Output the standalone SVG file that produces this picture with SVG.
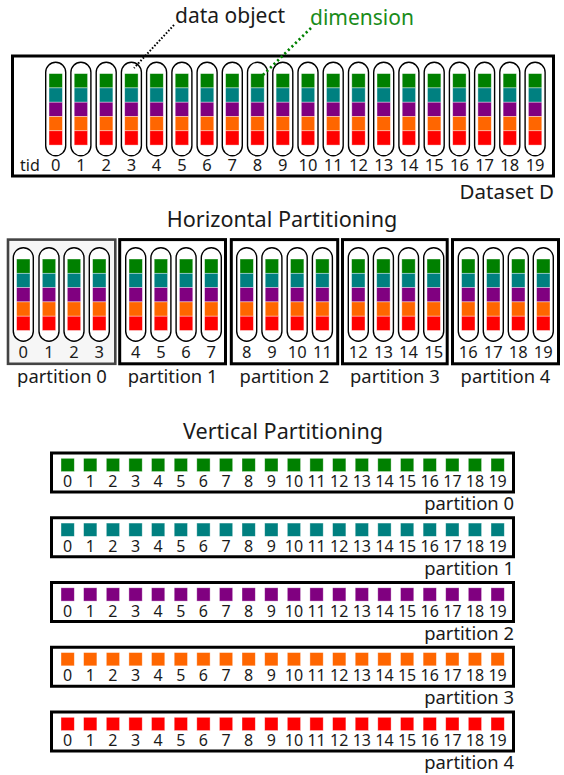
<svg xmlns="http://www.w3.org/2000/svg" xmlns:xlink="http://www.w3.org/1999/xlink" width="564" height="775" viewBox="0 0 564 775">
<style>
text{font-family:"Noto Sans","Open Sans","DejaVu Sans",sans-serif;fill:#1a1a1a}
.dg{font-size:16.5px;text-anchor:middle}
.vd{font-size:16px;text-anchor:middle;fill:#1a1a1a}
.lbl{font-size:18.4px}
.ttl{font-size:21.6px;text-anchor:middle}
.box{fill:#fff;stroke:#000;stroke-width:3}
.cap{fill:#fff;stroke:#000;stroke-width:1.4}
.sq{stroke:#fff;stroke-opacity:0.55;stroke-width:0.7}
</style>
<defs>
<g id="obj">
<rect class="cap" x="0" y="0" width="20" height="93.5" rx="10" ry="10"/>
<rect class="sq" x="3.3" y="11.3" width="13.4" height="14.3" fill="#008000"/>
<rect class="sq" x="3.3" y="25.6" width="13.4" height="14.3" fill="#008080"/>
<rect class="sq" x="3.3" y="39.9" width="13.4" height="14.3" fill="#800080"/>
<rect class="sq" x="3.3" y="54.2" width="13.4" height="14.3" fill="#ff6600"/>
<rect class="sq" x="3.3" y="68.5" width="13.4" height="14.3" fill="#ff0000"/>
</g>
<g id="vrow">
<rect class="box" x="51.5" y="453" width="462" height="39"/>
<g class="sq" stroke-opacity="0.45">
<rect x="61" y="458.3" width="13.3" height="13.3"/>
<rect x="83.6" y="458.3" width="13.3" height="13.3"/>
<rect x="106.3" y="458.3" width="13.3" height="13.3"/>
<rect x="128.9" y="458.3" width="13.3" height="13.3"/>
<rect x="151.5" y="458.3" width="13.3" height="13.3"/>
<rect x="174.2" y="458.3" width="13.3" height="13.3"/>
<rect x="196.8" y="458.3" width="13.3" height="13.3"/>
<rect x="219.4" y="458.3" width="13.3" height="13.3"/>
<rect x="242" y="458.3" width="13.3" height="13.3"/>
<rect x="264.7" y="458.3" width="13.3" height="13.3"/>
<rect x="287.3" y="458.3" width="13.3" height="13.3"/>
<rect x="309.9" y="458.3" width="13.3" height="13.3"/>
<rect x="332.6" y="458.3" width="13.3" height="13.3"/>
<rect x="355.2" y="458.3" width="13.3" height="13.3"/>
<rect x="377.8" y="458.3" width="13.3" height="13.3"/>
<rect x="400.5" y="458.3" width="13.3" height="13.3"/>
<rect x="423.1" y="458.3" width="13.3" height="13.3"/>
<rect x="445.7" y="458.3" width="13.3" height="13.3"/>
<rect x="468.3" y="458.3" width="13.3" height="13.3"/>
<rect x="491" y="458.3" width="13.3" height="13.3"/>
</g>
<g>
<text class="vd" x="67.7" y="487">0</text>
<text class="vd" x="90.3" y="487">1</text>
<text class="vd" x="112.9" y="487">2</text>
<text class="vd" x="135.5" y="487">3</text>
<text class="vd" x="158.2" y="487">4</text>
<text class="vd" x="180.8" y="487">5</text>
<text class="vd" x="203.4" y="487">6</text>
<text class="vd" x="226.1" y="487">7</text>
<text class="vd" x="248.7" y="487">8</text>
<text class="vd" x="271.3" y="487">9</text>
<text class="vd" x="294" y="487">10</text>
<text class="vd" x="316.6" y="487">11</text>
<text class="vd" x="339.2" y="487">12</text>
<text class="vd" x="361.8" y="487">13</text>
<text class="vd" x="384.5" y="487">14</text>
<text class="vd" x="407.1" y="487">15</text>
<text class="vd" x="429.7" y="487">16</text>
<text class="vd" x="452.4" y="487">17</text>
<text class="vd" x="475" y="487">18</text>
<text class="vd" x="497.6" y="487">19</text>
</g>
</g>
</defs>

<!-- Dataset D -->
<g id="dataset">
<rect class="box" x="12.5" y="56" width="541" height="120"/>
<use xlink:href="#obj" x="45.7" y="62.3"/>
<use xlink:href="#obj" x="70.9" y="62.3"/>
<use xlink:href="#obj" x="96.2" y="62.3"/>
<use xlink:href="#obj" x="121.4" y="62.3"/>
<use xlink:href="#obj" x="146.6" y="62.3"/>
<use xlink:href="#obj" x="171.9" y="62.3"/>
<use xlink:href="#obj" x="197.1" y="62.3"/>
<use xlink:href="#obj" x="222.3" y="62.3"/>
<use xlink:href="#obj" x="247.5" y="62.3"/>
<use xlink:href="#obj" x="272.8" y="62.3"/>
<use xlink:href="#obj" x="298" y="62.3"/>
<use xlink:href="#obj" x="323.2" y="62.3"/>
<use xlink:href="#obj" x="348.5" y="62.3"/>
<use xlink:href="#obj" x="373.7" y="62.3"/>
<use xlink:href="#obj" x="398.9" y="62.3"/>
<use xlink:href="#obj" x="424.2" y="62.3"/>
<use xlink:href="#obj" x="449.4" y="62.3"/>
<use xlink:href="#obj" x="474.6" y="62.3"/>
<use xlink:href="#obj" x="499.8" y="62.3"/>
<use xlink:href="#obj" x="525.1" y="62.3"/>
<text x="20" y="171" style="font-size:16px">tid</text>
<text class="dg" x="55.7" y="171">0</text>
<text class="dg" x="80.9" y="171">1</text>
<text class="dg" x="106.2" y="171">2</text>
<text class="dg" x="131.4" y="171">3</text>
<text class="dg" x="156.6" y="171">4</text>
<text class="dg" x="181.9" y="171">5</text>
<text class="dg" x="207.1" y="171">6</text>
<text class="dg" x="232.3" y="171">7</text>
<text class="dg" x="257.5" y="171">8</text>
<text class="dg" x="282.8" y="171">9</text>
<text class="dg" x="308" y="171">10</text>
<text class="dg" x="333.2" y="171">11</text>
<text class="dg" x="358.5" y="171">12</text>
<text class="dg" x="383.7" y="171">13</text>
<text class="dg" x="408.9" y="171">14</text>
<text class="dg" x="434.2" y="171">15</text>
<text class="dg" x="459.4" y="171">16</text>
<text class="dg" x="484.6" y="171">17</text>
<text class="dg" x="509.8" y="171">18</text>
<text class="dg" x="535.1" y="171">19</text>
<text x="554" y="199" style="font-size:20.5px;text-anchor:end">Dataset D</text>
</g>

<g id="label-data-object">
<text x="175" y="23" style="font-size:21px">data object</text>
</g>
<g id="label-dimension">
<text x="310" y="25" style="font-size:21px;fill:#1a8c1a">dimension</text>
</g>

<g id="connectors">
<line x1="174" y1="25" x2="134" y2="68" stroke="#000" stroke-width="2" stroke-dasharray="1.6 1.8"/>
<line x1="311" y1="28" x2="263" y2="75" stroke="#008000" stroke-width="2.6" stroke-dasharray="2.2 2.8"/>
</g>

<!-- Horizontal Partitioning -->
<text class="ttl" x="282" y="226.5">Horizontal Partitioning</text>

<g id="hpart0">
<rect x="8" y="239.6" width="107.3" height="124.2" fill="#f6f6f6" stroke="#444" stroke-width="2.6"/>
<use xlink:href="#obj" x="13.3" y="247.7"/>
<use xlink:href="#obj" x="39" y="247.7"/>
<use xlink:href="#obj" x="64" y="247.7"/>
<use xlink:href="#obj" x="89.3" y="247.7"/>
<text class="dg" x="23.3" y="357.5">0</text>
<text class="dg" x="49" y="357.5">1</text>
<text class="dg" x="74" y="357.5">2</text>
<text class="dg" x="99.3" y="357.5">3</text>
<text class="lbl" x="62" y="383" text-anchor="middle">partition 0</text>
</g>
<g id="hpart1">
<rect class="box" x="119.7" y="239.6" width="105.8" height="124.2"/>
<use xlink:href="#obj" x="125.7" y="247.7"/>
<use xlink:href="#obj" x="150.9" y="247.7"/>
<use xlink:href="#obj" x="176.1" y="247.7"/>
<use xlink:href="#obj" x="201.3" y="247.7"/>
<text class="dg" x="135.7" y="357.5">4</text>
<text class="dg" x="160.9" y="357.5">5</text>
<text class="dg" x="186.1" y="357.5">6</text>
<text class="dg" x="211.3" y="357.5">7</text>
<text class="lbl" x="172.6" y="383" text-anchor="middle">partition 1</text>
</g>
<g id="hpart2">
<rect class="box" x="231.3" y="239.6" width="106.4" height="124.2"/>
<use xlink:href="#obj" x="236.7" y="247.7"/>
<use xlink:href="#obj" x="261.9" y="247.7"/>
<use xlink:href="#obj" x="287.2" y="247.7"/>
<use xlink:href="#obj" x="312.4" y="247.7"/>
<text class="dg" x="246.7" y="357.5">8</text>
<text class="dg" x="271.9" y="357.5">9</text>
<text class="dg" x="297.2" y="357.5">10</text>
<text class="dg" x="322.4" y="357.5">11</text>
<text class="lbl" x="284.5" y="383" text-anchor="middle">partition 2</text>
</g>
<g id="hpart3">
<rect class="box" x="342.5" y="239.6" width="104.7" height="124.2"/>
<use xlink:href="#obj" x="348.3" y="247.7"/>
<use xlink:href="#obj" x="373.4" y="247.7"/>
<use xlink:href="#obj" x="398.5" y="247.7"/>
<use xlink:href="#obj" x="423.7" y="247.7"/>
<text class="dg" x="358.3" y="357.5">12</text>
<text class="dg" x="383.4" y="357.5">13</text>
<text class="dg" x="408.5" y="357.5">14</text>
<text class="dg" x="433.7" y="357.5">15</text>
<text class="lbl" x="394.9" y="383" text-anchor="middle">partition 3</text>
</g>
<g id="hpart4">
<rect class="box" x="452.5" y="239.6" width="106" height="124.2"/>
<use xlink:href="#obj" x="458.3" y="247.7"/>
<use xlink:href="#obj" x="483.3" y="247.7"/>
<use xlink:href="#obj" x="508.3" y="247.7"/>
<use xlink:href="#obj" x="533.3" y="247.7"/>
<text class="dg" x="468.3" y="357.5">16</text>
<text class="dg" x="493.3" y="357.5">17</text>
<text class="dg" x="518.3" y="357.5">18</text>
<text class="dg" x="543.3" y="357.5">19</text>
<text class="lbl" x="505.5" y="383" text-anchor="middle">partition 4</text>
</g>

<!-- Vertical Partitioning -->
<text class="ttl" x="283" y="439">Vertical Partitioning</text>

<g id="vpart0">
<use xlink:href="#vrow" fill="#008000"/>
<text class="lbl" x="514" y="510" text-anchor="end">partition 0</text>
</g>
<g id="vpart1">
<use xlink:href="#vrow" y="64.75" fill="#008080"/>
<text class="lbl" x="514" y="574.75" text-anchor="end">partition 1</text>
</g>
<g id="vpart2">
<use xlink:href="#vrow" y="129.5" fill="#800080"/>
<text class="lbl" x="514" y="639.5" text-anchor="end">partition 2</text>
</g>
<g id="vpart3">
<use xlink:href="#vrow" y="194.25" fill="#ff6600"/>
<text class="lbl" x="514" y="704.25" text-anchor="end">partition 3</text>
</g>
<g id="vpart4">
<use xlink:href="#vrow" y="259" fill="#ff0000"/>
<text class="lbl" x="514" y="769" text-anchor="end">partition 4</text>
</g>
</svg>
